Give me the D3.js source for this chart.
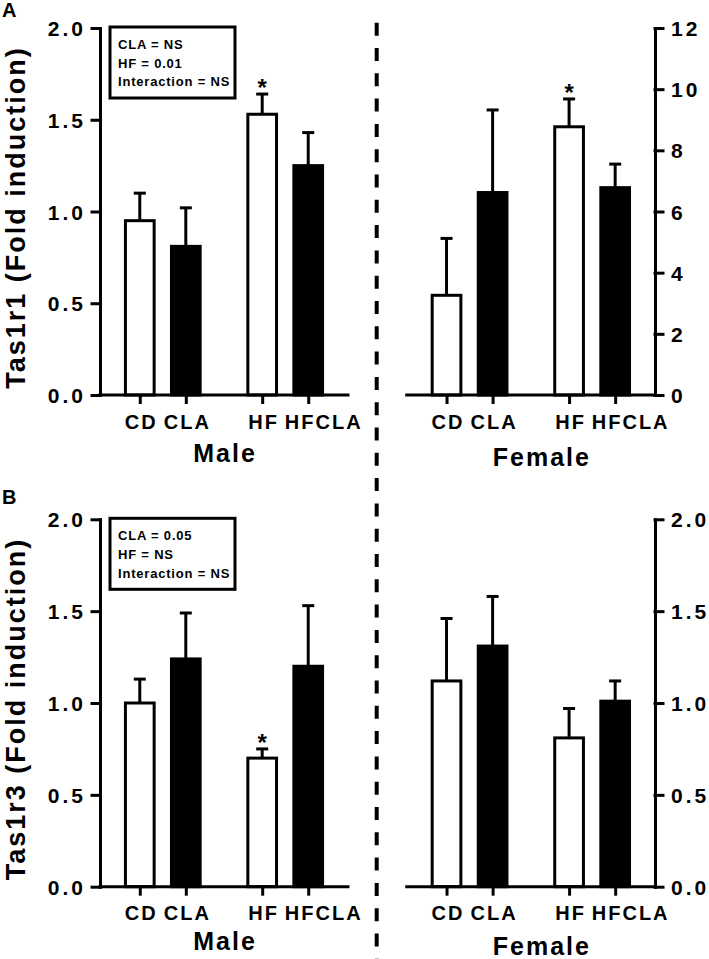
<!DOCTYPE html>
<html>
<head>
<meta charset="utf-8">
<script src="https://cdn.jsdelivr.net/npm/d3@7"></script>
<style>
  html, body { margin: 0; padding: 0; background: #fff; }
  svg { display: block; }
  text { font-family: "Liberation Sans", Arial, sans-serif; font-weight: bold; fill: #000; }
</style>
</head>
<body>
<svg id="chart" width="709" height="959"></svg>
<script>
// ---------- data ----------
const categories = ["CD", "CLA", "HF", "HFCLA"];

const tas1r1MaleMean   = [0.95, 0.81, 1.53, 1.25];
const tas1r1MaleSem    = [0.15, 0.21, 0.11, 0.18];
const tas1r1FemaleMean = [3.26, 6.62, 8.77, 6.78];
const tas1r1FemaleSem  = [1.86, 2.70, 0.91, 0.77];

const tas1r3MaleMean   = [1.00, 1.24, 0.70, 1.20];
const tas1r3MaleSem    = [0.13, 0.25, 0.05, 0.33];
const tas1r3FemaleMean = [1.12, 1.31, 0.81, 1.01];
const tas1r3FemaleSem  = [0.34, 0.27, 0.16, 0.11];

const tas1r1MaleStars   = ["HF"];
const tas1r1FemaleStars = ["HF"];
const tas1r3MaleStars   = ["HF"];
const tas1r3FemaleStars = [];

const ticksFold   = [0, 0.5, 1.0, 1.5, 2.0];
const ticksFemale1 = [0, 2, 4, 6, 8, 10, 12];

const statsTas1r1 = ["CLA = NS", "HF = 0.01", "Interaction = NS"];
const statsTas1r3 = ["CLA = 0.05", "HF = NS", "Interaction = NS"];

const panelLetters = ["A", "B"];
const yTitles = ["Tas1r1 (Fold induction)", "Tas1r3 (Fold induction)"];
const sexLabels = ["Male", "Female"];

// ---------- drawing ----------
const svg = d3.select("#chart");

function drawPanel(p) {
  const y = d3.scaleLinear().domain([0, d3.max(p.ticks)]).range([p.yBot, p.yTop]);
  const grp = d3.scalePoint().domain(["ctrl", "hf"]).range([p.x0, p.x1]).padding(0.513);
  const off = grp.step() * 0.188;
  const x = d3.scaleOrdinal().domain(categories)
    .range(categories.map((c, i) => grp(i < 2 ? "ctrl" : "hf") + (i % 2 === 0 ? -off : off)));
  const bw = 28.7;
  const g = svg.append("g");

  // bars
  g.selectAll("rect.bar").data(categories).join("rect")
    .attr("class", "bar")
    .attr("x", c => x(c) - bw / 2)
    .attr("width", bw)
    .attr("y", (c, i) => y(p.mean[i]))
    .attr("height", (c, i) => y(0) - y(p.mean[i]))
    .attr("fill", (c, i) => i % 2 ? "#000" : "#fff")
    .attr("stroke", "#000").attr("stroke-width", 3);

  // error bars (upper only)
  g.selectAll("line.err").data(categories).join("line")
    .attr("class", "err")
    .attr("x1", c => x(c)).attr("x2", c => x(c))
    .attr("y1", (c, i) => y(p.mean[i]) - 1)
    .attr("y2", (c, i) => y(p.mean[i] + p.sem[i]))
    .attr("stroke", "#000").attr("stroke-width", 3);
  g.selectAll("line.cap").data(categories).join("line")
    .attr("class", "cap")
    .attr("x1", c => x(c) - 6).attr("x2", c => x(c) + 6)
    .attr("y1", (c, i) => y(p.mean[i] + p.sem[i]))
    .attr("y2", (c, i) => y(p.mean[i] + p.sem[i]))
    .attr("stroke", "#000").attr("stroke-width", 3);

  // significance stars
  g.selectAll("text.star").data(categories.filter(c => p.stars.includes(c))).join("text")
    .attr("class", "star")
    .attr("x", c => x(c))
    .attr("y", c => { const i = categories.indexOf(c); return y(p.mean[i] + p.sem[i]) + 2; })
    .attr("text-anchor", "middle")
    .attr("font-size", 24)
    .text("*");

  // y axis
  const isLeft = p.side === "left";
  const yAxis = (isLeft ? d3.axisLeft(y) : d3.axisRight(y))
    .tickValues(p.ticks).tickFormat(d3.format(p.fmt))
    .tickSize(8).tickSizeOuter(0).tickPadding(isLeft ? 6 : 8);
  const ya = svg.append("g")
    .attr("transform", `translate(${isLeft ? p.x0 : p.x1},0)`)
    .call(yAxis);
  ya.attr("font-family", null).attr("font-size", null);
  ya.selectAll("path, line").attr("stroke", "#000").attr("stroke-width", 3).attr("stroke-linecap", "square");
  ya.selectAll("text").attr("font-size", 21).attr("letter-spacing", 3).attr("dy", "0.36em");

  // x axis
  svg.append("line")
    .attr("x1", p.x0).attr("x2", p.x1).attr("y1", y(0)).attr("y2", y(0))
    .attr("stroke", "#000").attr("stroke-width", 3).attr("stroke-linecap", "square");
  const xAxis = d3.axisBottom(x).tickSize(9).tickSizeOuter(0).tickPadding(10);
  const xa = svg.append("g").attr("transform", `translate(0,${y(0)})`).call(xAxis);
  xa.select(".domain").remove();
  xa.attr("font-family", null).attr("font-size", null);
  xa.selectAll("line").attr("stroke", "#000").attr("stroke-width", 3);
  xa.selectAll("text").attr("font-size", 20).attr("letter-spacing", 2)
    .attr("dy", "0.74em")
    .attr("dx", d => d === "HFCLA" ? 15 : 1);

  // sex label
  svg.append("text")
    .attr("x", (p.x0 + p.x1) / 2 + p.sexDx)
    .attr("y", p.sexY)
    .attr("text-anchor", "middle")
    .attr("font-size", 25).attr("letter-spacing", 2)
    .text(p.sex);

  // stats box
  if (p.legend) {
    const b = p.legendBox;
    svg.append("rect")
      .attr("x", b[0]).attr("y", b[1]).attr("width", b[2] - b[0]).attr("height", b[3] - b[1])
      .attr("fill", "#fff").attr("stroke", "#000").attr("stroke-width", 3);
    svg.append("g").selectAll("text").data(p.legend).join("text")
      .attr("x", b[0] + 8)
      .attr("y", (d, i) => b[1] + 22 + i * 18.6)
      .attr("font-size", 13).attr("letter-spacing", 0.8)
      .text(d => d);
  }
}

const rows = [
  { top: 28, bot: 395, title: yTitles[0], letter: panelLetters[0], letterY: 17,
    male: { mean: tas1r1MaleMean, sem: tas1r1MaleSem, stars: tas1r1MaleStars, legend: statsTas1r1 },
    female: { mean: tas1r1FemaleMean, sem: tas1r1FemaleSem, stars: tas1r1FemaleStars, ticks: ticksFemale1, fmt: "d" },
    maleY: 461.5, femaleY: 465.5 },
  { top: 519.3, bot: 886.7, title: yTitles[1], letter: panelLetters[1], letterY: 504,
    male: { mean: tas1r3MaleMean, sem: tas1r3MaleSem, stars: tas1r3MaleStars, legend: statsTas1r3 },
    female: { mean: tas1r3FemaleMean, sem: tas1r3FemaleSem, stars: tas1r3FemaleStars, ticks: ticksFold, fmt: ".1f" },
    maleY: 950, femaleY: 955 }
];

rows.forEach(r => {
  drawPanel({
    mean: r.male.mean, sem: r.male.sem, stars: r.male.stars, ticks: ticksFold, fmt: ".1f",
    x0: 100, x1: 348, yTop: r.top, yBot: r.bot, side: "left",
    sex: sexLabels[0], sexY: r.maleY, sexDx: 1,
    legend: r.male.legend, legendBox: [110, r.top - 1, 235, r.top + 70]
  });
  drawPanel({
    mean: r.female.mean, sem: r.female.sem, stars: r.female.stars, ticks: r.female.ticks, fmt: r.female.fmt,
    x0: 406.7, x1: 655, yTop: r.top, yBot: r.bot, side: "right",
    sex: sexLabels[1], sexY: r.femaleY, sexDx: 11
  });
  // y title
  svg.append("text")
    .attr("transform", `translate(25,${(r.top + r.bot) / 2 + 6}) rotate(-90)`)
    .attr("text-anchor", "middle")
    .attr("font-size", 27).attr("letter-spacing", 2)
    .text(r.title);
  // panel letter
  svg.append("text").attr("x", 2).attr("y", r.letterY).attr("font-size", 20).text(r.letter);
});

// dashed separator
svg.append("line")
  .attr("x1", 376.7).attr("x2", 376.7).attr("y1", 22.7).attr("y2", 959)
  .attr("stroke", "#000").attr("stroke-width", 4)
  .attr("stroke-dasharray", "13 12.3");
</script>
</body>
</html>
